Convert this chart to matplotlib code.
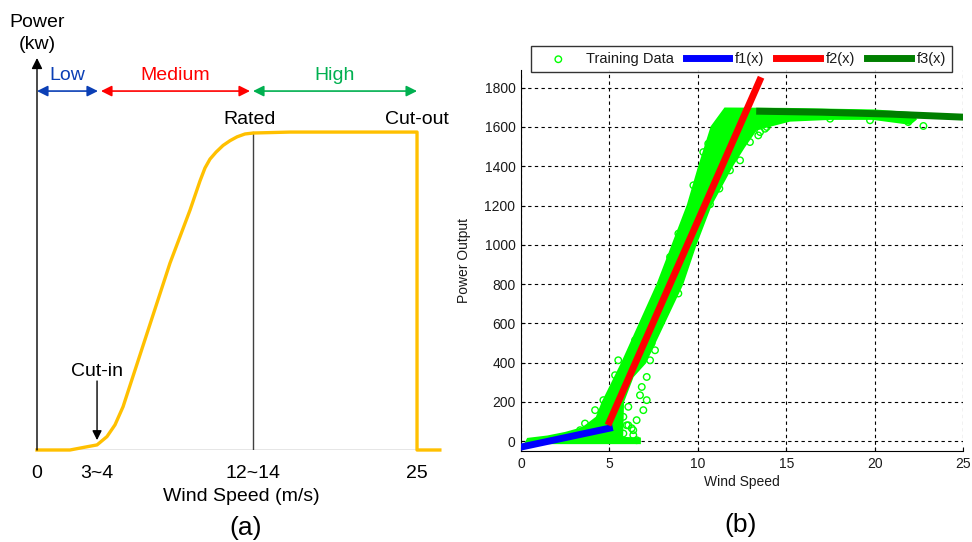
import matplotlib
matplotlib.use("Agg")
import matplotlib.pyplot as plt

plt.rcParams["font.family"] = ["Liberation Sans", "DejaVu Sans"]

# ---- panel (a): schematic power curve (x in speed-like units, rated power = 1)
curve_speed = [0, 2.17, 3.16, 3.95, 4.6, 5.13, 5.66, 8.75, 10.07, 10.72, 11.05,
               11.38, 11.78, 12.24, 12.70, 13.16, 13.68, 14.21, 16.64, 25, 25, 26.5]
curve_power = [0, 0, 0.009, 0.016, 0.042, 0.079, 0.136, 0.588, 0.755, 0.846, 0.887,
               0.915, 0.937, 0.958, 0.973, 0.985, 0.994, 0.997, 1.0, 1.0, 0, 0]
tick_pos = [0, 3.95, 14.21, 25]
tick_labels = ["0", "3~4", "12~14", "25"]
region_names = ["Low", "Medium", "High"]
region_colors = ["#0b3fb5", "#ff0000", "#00b050"]
region_bounds = [(0, 4.01), (4.21, 14.01), (14.21, 25)]

# ---- panel (b): training data and fitted pieces
band_speed = [0.3, 6.7, 6.7, 5.7, 5.75, 6.3, 7.0, 8.05, 9.1, 9.85, 10.7, 11.9, 12.6,
              13.3, 15.2, 17.5, 19.9, 22.0, 22.3, 22.2, 20.0, 15.0, 11.55, 10.8,
              10.1, 9.45, 8.6, 7.75, 6.75, 5.75, 4.65, 4.3, 3.5, 2.5, 1.5, 0.4]
band_power = [-8, -8, 12, 15, 200, 330, 400, 600, 800, 1000, 1200, 1400, 1500,
              1590, 1634, 1643, 1643, 1618, 1640, 1668, 1682, 1690, 1692, 1600,
              1400, 1200, 1000, 800, 600, 400, 200, 120, 65, 40, 22, 10]
out_speed = [5.79, 6.07, 6.35, 6.54, 6.73, 6.83, 7.11, 7.30, 7.58, 6.35, 6.07, 5.79,
             5.50, 5.32, 6.45, 6.73, 8.90, 4.66, 4.19, 3.62, 7.11, 6.92, 6.54,
             10.31, 10.59, 9.75, 11.22, 11.82, 12.39, 12.95, 13.42, 13.8, 10.69,
             9.56, 8.90, 8.43, 13.52, 13.9, 17.48, 19.74, 21.9, 22.76, 3.34, 4.85,
             5.98, 6.26, 6.9, 7.39]
out_power = [124, 175, 56, 107, 234, 276, 327, 412, 463, 31, 81, 39,
             412, 336, 514, 556, 752, 209, 158, 90, 209, 158, 5,
             1472, 1515, 1303, 1286, 1379, 1430, 1523, 1557, 1591, 1206,
             981, 1057, 938, 1574, 1600, 1642, 1634, 1625, 1605, 56, 200,
             81, 66, 580, 499]
f1_speed = [0, 5]
f1_power = [-30, 66]
f2_speed = [5, 13.5]
f2_power = [98, 1837]
f3_speed = [13.5, 17, 21, 25]
f3_power = [1680, 1675, 1665, 1650]

fig = plt.figure(figsize=(9.72, 5.42), dpi=100)

# ================= panel (a) =================
ax = fig.add_axes([37 / 972, 92 / 542, 408 / 972, 392 / 542])
ax.set_xlim(0, 26.84)
ax.set_ylim(0, 1.233)
for s in ax.spines.values():
    s.set_visible(False)
ax.plot([0, 26.5], [0, 0], color="#808080", lw=1)
ax.plot([tick_pos[2], tick_pos[2]], [0, 1.0], color="#404040", lw=1)
ax.plot(curve_speed, curve_power, color="#ffc000", lw=2.4, solid_joinstyle="round",
        clip_on=False, zorder=3)
ax.annotate("", xy=(0, 1.233), xytext=(0, 0),
            arrowprops=dict(arrowstyle="-|>", color="black", lw=1, mutation_scale=16,
                            shrinkA=0, shrinkB=0), annotation_clip=False)
ax.set_xticks(tick_pos)
ax.set_xticklabels(tick_labels, fontsize=14)
ax.tick_params(axis="x", length=0, pad=11)
ax.set_yticks([])
ax.set_xlabel("Wind Speed (m/s)", fontsize=14, labelpad=4)

for name, col, (x0, x1) in zip(region_names, region_colors, region_bounds):
    ax.annotate("", xy=(x1, 1.129), xytext=(x0, 1.129),
                arrowprops=dict(arrowstyle="<|-|>", color=col, lw=1.2,
                                mutation_scale=16, shrinkA=0, shrinkB=0),
                annotation_clip=False)
    ax.text((x0 + x1) / 2, 1.178, name, color=col, fontsize=14, ha="center",
            va="center", clip_on=False)

ax.text(tick_pos[2] - 0.2, 1.04, "Rated", fontsize=14, ha="center", va="center")
ax.text(tick_pos[3], 1.04, "Cut-out", fontsize=14, ha="center", va="center")
ax.text(0, 1.31, "Power\n(kw)", fontsize=14, ha="center", va="center",
        linespacing=1.35, clip_on=False)
ax.text(tick_pos[1], 0.248, "Cut-in", fontsize=14, ha="center", va="center")
ax.annotate("", xy=(tick_pos[1], 0.031), xytext=(tick_pos[1], 0.217),
            arrowprops=dict(arrowstyle="-|>", color="black", lw=1,
                            mutation_scale=14, shrinkA=0, shrinkB=0))
fig.text(246 / 972, 1 - 528 / 542, "(a)", fontsize=19, ha="center", va="center")

# ================= panel (b) =================
bx = fig.add_axes([521 / 972, 91 / 542, 442 / 972, 381 / 542])
txt = "#1a1a1a"
bx.fill(band_speed, band_power, facecolor="#00ff00", edgecolor="#00ff00", lw=2,
        zorder=2)
bx.scatter(out_speed, out_power, s=22, facecolors="none", edgecolors="#00ff00",
           lw=1, zorder=2, label="Training Data")
bx.plot(f1_speed, f1_power, color="#0000ff", lw=5, label="f1(x)", zorder=3)
bx.plot(f2_speed, f2_power, color="#ff0000", lw=5, label="f2(x)", zorder=3)
bx.plot(f3_speed, f3_power, color="#007f00", lw=5, label="f3(x)", zorder=3)

bx.set_xlim(0, 25)
bx.set_ylim(-50, 1890)
bx.set_xticks(range(0, 26, 5))
bx.set_yticks(range(0, 1801, 200))
bx.spines["top"].set_visible(False)
bx.spines["right"].set_visible(False)
bx.set_axisbelow(True)
bx.grid(True, color="black", linestyle=(0, (3, 3)), lw=0.8)
bx.tick_params(direction="in", length=3, labelsize=10, labelcolor=txt, pad=4)
bx.set_xlabel("Wind Speed", fontsize=10, color=txt, labelpad=3)
bx.set_ylabel("Power Output", fontsize=10, color=txt, labelpad=10)

leg = bx.legend(loc="lower center", bbox_to_anchor=(0.498, 0.995), ncol=4,
                fontsize=10.5, frameon=True, fancybox=False, borderaxespad=0,
                handlelength=3.0, handletextpad=0.4, columnspacing=0.8,
                borderpad=0.4)
leg.get_frame().set_edgecolor("black")
leg.get_frame().set_linewidth(1)
for t in leg.get_texts():
    t.set_color(txt)

fig.text(741 / 972, 1 - 525 / 542, "(b)", fontsize=19, ha="center", va="center")

fig.savefig("out.png", dpi=100)
